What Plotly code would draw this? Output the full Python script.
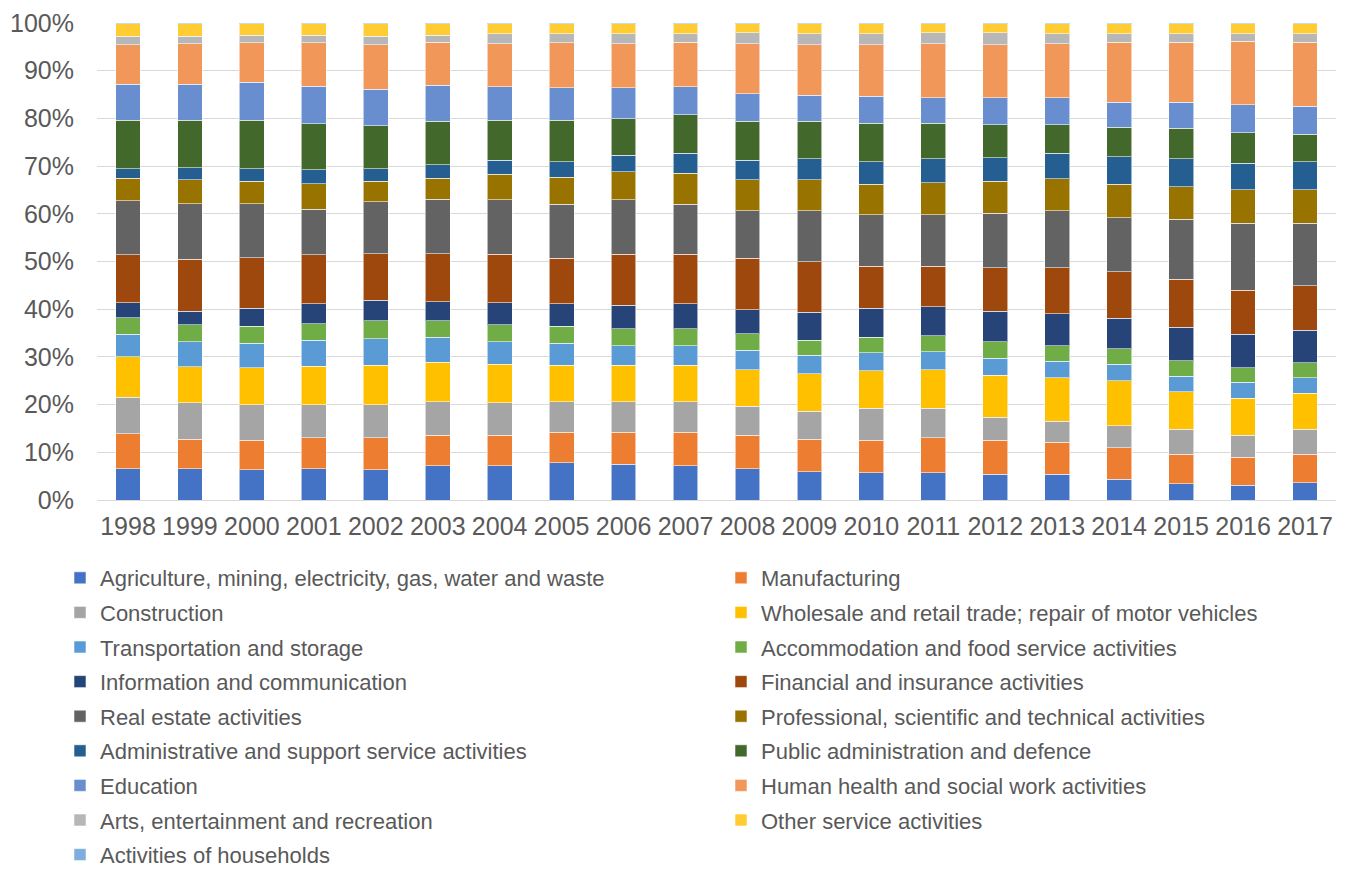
import plotly.graph_objects as go

years = [str(y) for y in range(1998, 2018)]

# Share of each industry (percent of total), one list per industry, 1998-2017
agriculture = [6.6, 6.6, 6.3, 6.6, 6.3, 7.2, 7.2, 7.8, 7.5, 7.2, 6.6, 5.9, 5.7, 5.7, 5.4, 5.4, 4.3, 3.4, 3.1, 3.6]
manufacturing = [7.3, 6.1, 6.2, 6.5, 6.8, 6.4, 6.4, 6.4, 6.7, 7.0, 7.0, 6.8, 6.8, 7.4, 7.1, 6.7, 6.7, 6.2, 5.9, 6.0]
construction = [7.6, 7.7, 7.5, 6.9, 6.9, 7.0, 6.8, 6.4, 6.4, 6.4, 6.1, 5.9, 6.7, 6.1, 4.9, 4.4, 4.6, 5.2, 4.6, 5.2]
wholesale = [8.5, 7.5, 7.7, 8.0, 8.3, 8.3, 8.1, 7.7, 7.7, 7.7, 7.6, 7.9, 7.9, 8.1, 8.8, 9.1, 9.4, 7.9, 7.7, 7.6]
transportation = [4.7, 5.3, 5.2, 5.5, 5.5, 5.2, 4.7, 4.6, 4.0, 4.0, 4.1, 3.8, 3.8, 3.8, 3.5, 3.5, 3.5, 3.2, 3.4, 3.2]
accommodation = [3.5, 3.5, 3.5, 3.5, 3.8, 3.5, 3.5, 3.5, 3.6, 3.6, 3.5, 3.2, 3.2, 3.3, 3.5, 3.2, 3.2, 3.3, 3.0, 3.2]
information = [3.2, 2.9, 3.8, 4.1, 4.3, 4.0, 4.7, 4.7, 4.9, 5.2, 5.0, 5.9, 6.1, 6.1, 6.4, 6.7, 6.4, 7.0, 7.0, 6.8]
financial = [10.0, 10.9, 10.6, 10.3, 9.7, 10.0, 10.1, 9.6, 10.7, 10.4, 10.8, 10.5, 8.8, 8.5, 9.1, 9.7, 9.7, 10.1, 9.3, 9.3]
real_estate = [11.3, 11.6, 11.3, 9.6, 10.9, 11.5, 11.4, 11.3, 11.4, 10.5, 9.9, 10.7, 10.8, 10.8, 11.4, 11.9, 11.4, 12.6, 14.0, 13.1]
professional = [4.8, 5.0, 4.7, 5.3, 4.3, 4.4, 5.4, 5.7, 5.9, 6.5, 6.5, 6.5, 6.4, 6.7, 6.7, 6.7, 7.0, 6.8, 7.0, 7.0]
administrative = [1.9, 2.6, 2.6, 2.9, 2.6, 2.8, 2.9, 3.2, 3.5, 4.2, 4.1, 4.4, 4.7, 5.0, 4.9, 5.4, 5.8, 5.8, 5.6, 5.9]
public_admin = [10.2, 9.9, 10.2, 9.7, 9.1, 9.1, 8.4, 8.7, 7.6, 8.1, 8.2, 7.9, 8.1, 7.5, 7.0, 6.0, 6.1, 6.4, 6.4, 5.8]
education = [7.6, 7.6, 8.0, 7.8, 7.6, 7.5, 7.0, 6.8, 6.5, 5.8, 5.8, 5.5, 5.6, 5.3, 5.6, 5.6, 5.3, 5.5, 5.9, 5.9]
health = [8.2, 8.5, 8.3, 9.2, 9.3, 9.1, 9.1, 9.5, 9.3, 9.4, 10.5, 10.5, 10.8, 11.4, 11.1, 11.4, 12.6, 12.6, 13.3, 13.4]
arts = [1.8, 1.5, 1.5, 1.5, 1.8, 1.4, 2.0, 1.8, 2.0, 1.7, 2.3, 2.3, 2.3, 2.3, 2.6, 2.0, 1.7, 1.7, 1.5, 1.7]
other_services = [2.6, 2.6, 2.4, 2.4, 2.6, 2.4, 2.1, 2.1, 2.1, 2.1, 1.8, 2.1, 2.1, 1.8, 1.8, 2.1, 2.1, 2.1, 2.1, 2.1]
households = [0.2] * 20

series = [
    ("Agriculture, mining, electricity, gas, water and waste", agriculture, "#4472C4"),
    ("Manufacturing", manufacturing, "#ED7D31"),
    ("Construction", construction, "#A5A5A5"),
    ("Wholesale and retail trade; repair of motor vehicles", wholesale, "#FFC000"),
    ("Transportation and storage", transportation, "#5B9BD5"),
    ("Accommodation and food service activities", accommodation, "#70AD47"),
    ("Information and communication", information, "#264478"),
    ("Financial and insurance activities", financial, "#9E480E"),
    ("Real estate activities", real_estate, "#636363"),
    ("Professional, scientific and technical activities", professional, "#997300"),
    ("Administrative and support service activities", administrative, "#255E91"),
    ("Public administration and defence", public_admin, "#43682B"),
    ("Education", education, "#698ED0"),
    ("Human health and social work activities", health, "#F1975A"),
    ("Arts, entertainment and recreation", arts, "#B7B7B7"),
    ("Other service activities", other_services, "#FFCD33"),
    ("Activities of households", households, "#7CAFDD"),
]

fig = go.Figure()
for i, (name, values, color) in enumerate(series):
    # legend entries alternate between a left and a right column
    fig.add_trace(go.Bar(
        x=years, y=values, name=name,
        legend="legend" if i % 2 == 0 else "legend2",
        legendgroup=name,
        marker=dict(color=color, line=dict(color="rgba(255,255,255,0.55)", width=1)),
    ))

font_family = "Liberation Sans, Arial, sans-serif"
text_color = "#595959"
W, H = 1345, 869

legend_common = dict(
    orientation="v", traceorder="grouped", tracegroupgap=3,
    xref="container", yref="container",
    xanchor="left", yanchor="top",
    font=dict(size=22, color=text_color, family=font_family),
    bgcolor="rgba(0,0,0,0)",
    itemclick=False, itemdoubleclick=False,
)

fig.update_layout(
    width=W, height=H,
    barmode="stack", barnorm="percent", bargap=0.6,
    paper_bgcolor="white", plot_bgcolor="white",
    margin=dict(l=97, r=9, t=23, b=369, autoexpand=False),
    font=dict(family=font_family, color=text_color, size=20),
    showlegend=True,
    legend=dict(legend_common, x=60 / W, y=1 - 557 / H),
    legend2=dict(legend_common, x=721 / W, y=1 - 557 / H),
    xaxis=dict(
        type="category", showgrid=False, showline=True, linecolor="#D9D9D9", linewidth=1,
        tickfont=dict(size=25, color=text_color), ticks="", ticklabelstandoff=4,
        automargin=False,
    ),
    yaxis=dict(
        range=[0, 100], tickmode="array",
        tickvals=list(range(0, 101, 10)),
        ticktext=[f"{v}%" for v in range(0, 101, 10)],
        showgrid=True, gridcolor="#D9D9D9", gridwidth=1,
        zeroline=False, showline=False, automargin=False,
        tickfont=dict(size=25, color=text_color), ticks="", ticklabelstandoff=22,
    ),
)

fig.write_html("out.html")
